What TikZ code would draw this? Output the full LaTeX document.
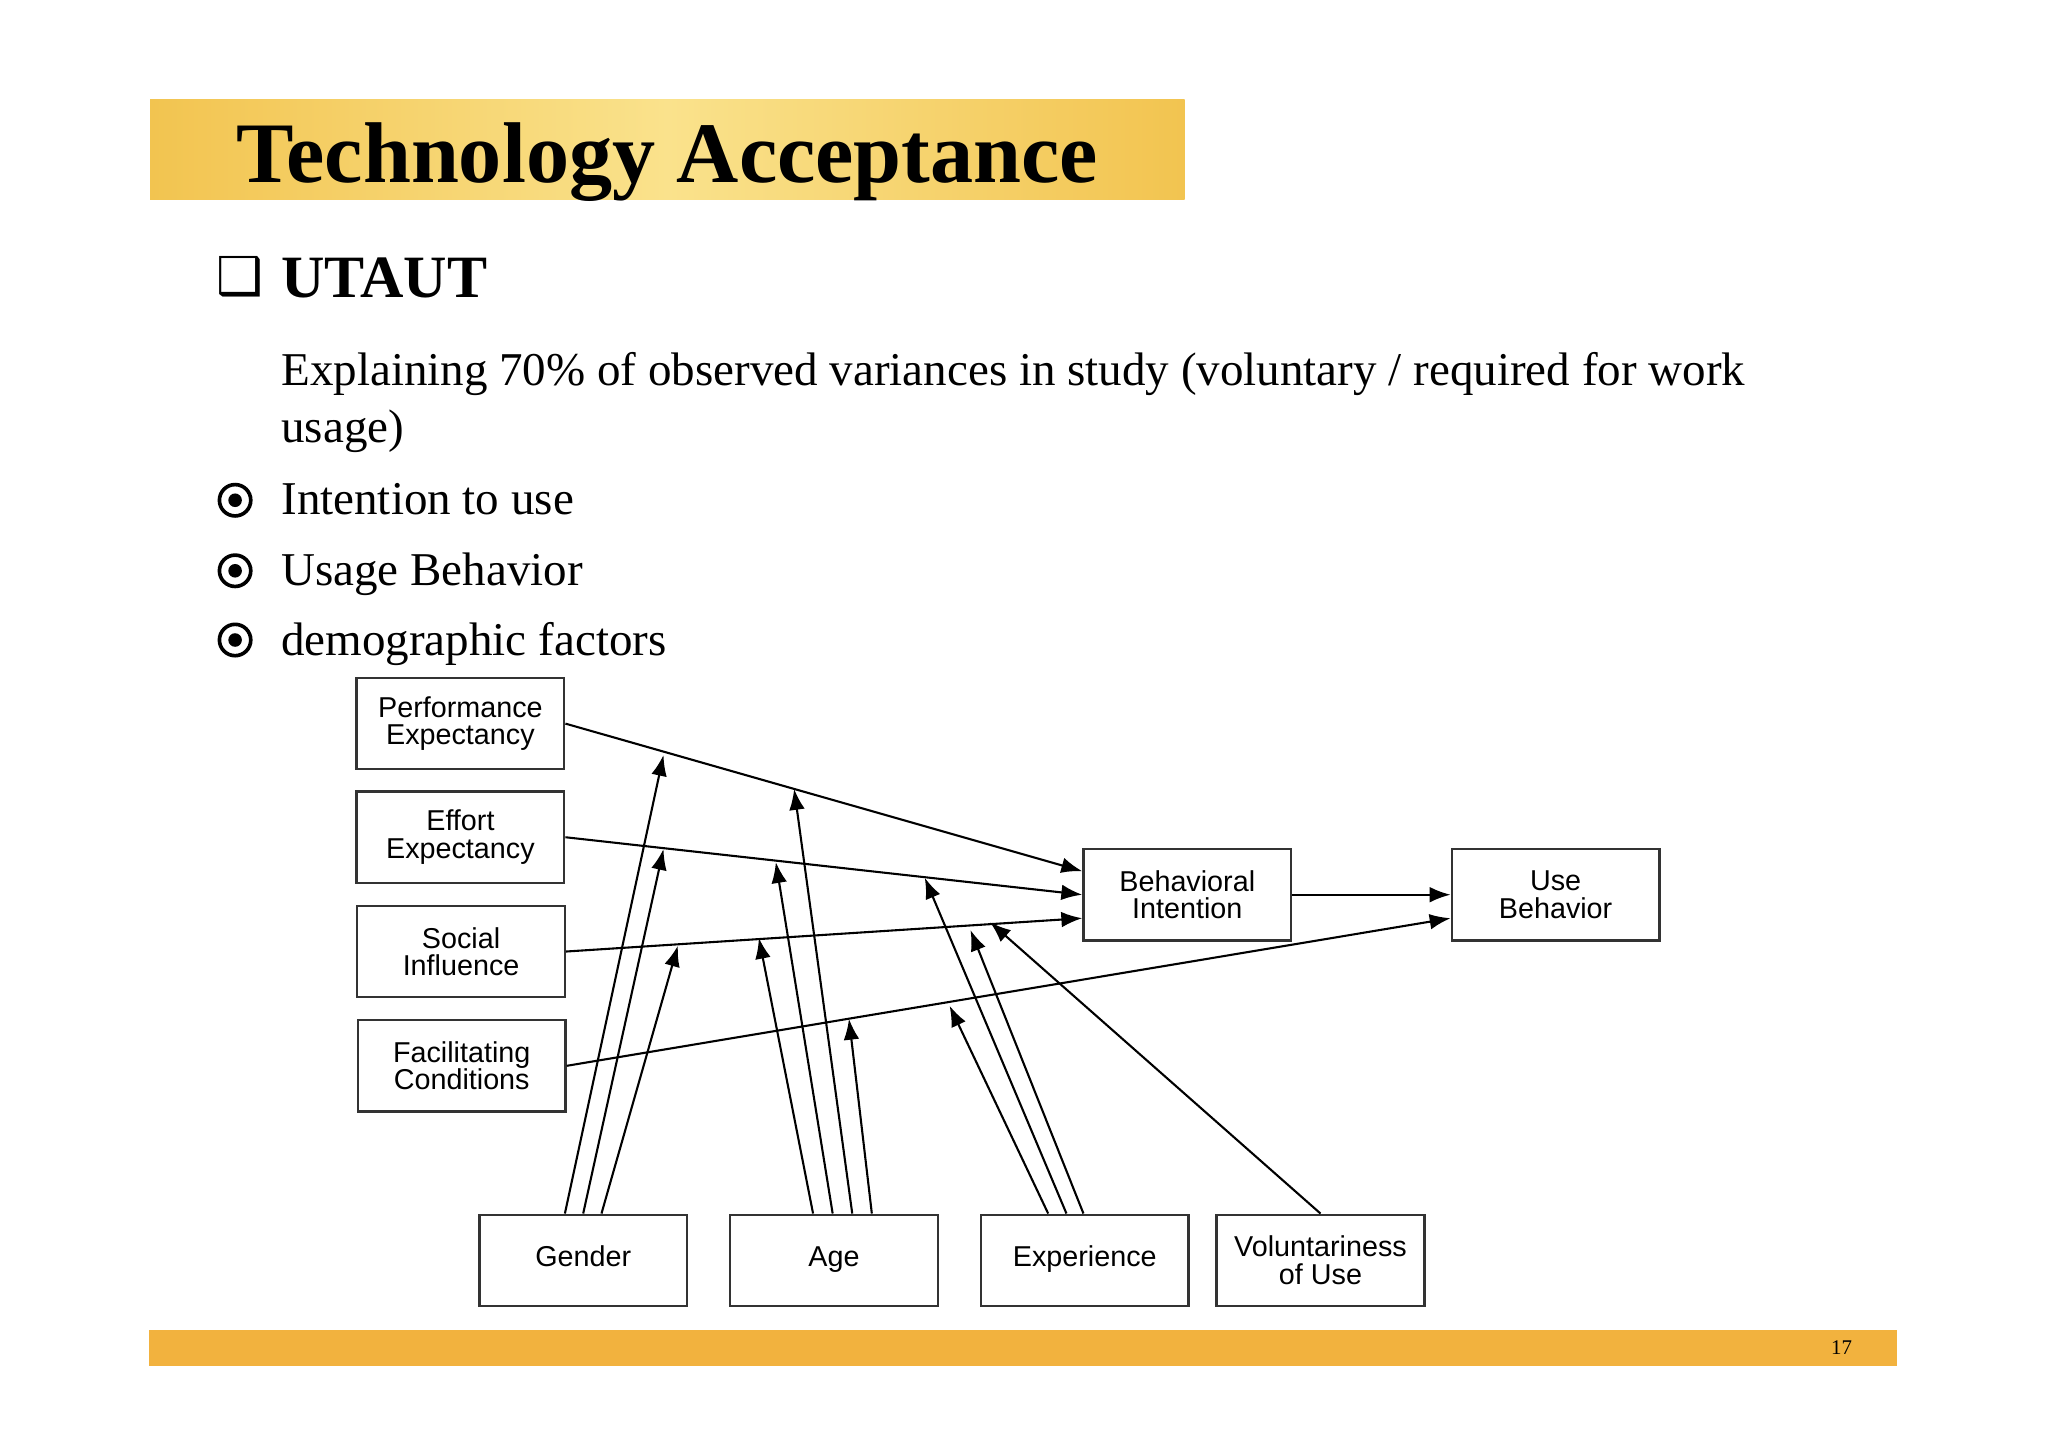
\documentclass[tikz,border=0pt]{standalone}
\usepackage{fontspec}
\setmainfont{Liberation Serif}
\newfontfamily\diagfont{Liberation Sans}
\newfontfamily\symfont{DejaVu Sans}
\usetikzlibrary{arrows.meta}
\definecolor{band}{RGB}{242,196,80}
\definecolor{bandlight}{RGB}{250,226,140}
\definecolor{foot}{RGB}{242,178,62}
\tikzset{
  box/.style={draw=black!80,line width=0.9pt,minimum width=79.5pt,minimum height=35pt,inner sep=0pt,align=center,font=\diagfont\fontsize{11}{10.5}\selectfont},
  arr/.style={line width=0.8pt,-{Latex[length=8pt,width=6pt]}},
  body/.style={anchor=base west,inner sep=0pt,font=\fontsize{18}{20}\selectfont}
}
\begin{document}
\begin{tikzpicture}[x=0.5pt,y=-0.5pt]
\useasboundingbox (0,0) rectangle (1568,1109);
\fill[white] (0,0) rectangle (1568,1109);
% header band
\shade[left color=band,right color=band,middle color=bandlight] (115,76) rectangle (907,153);
\node[anchor=base west,inner sep=0pt,font=\bfseries\fontsize{33}{36}\selectfont] (title) at (181,140) {Technology Acceptance};
% footer
\fill[foot] (114,1018) rectangle (1452,1046);
\node[inner sep=0pt,font=\fontsize{8}{9}\selectfont] (pg) at (1410,1032) {17};
% bullets
\node[inner sep=0pt,font=\symfont\bfseries\fontsize{20}{20}\selectfont] (sq) at (184,212) {❑};
\node[anchor=base west,inner sep=0pt,font=\bfseries\fontsize{23}{24}\selectfont] (utaut) at (215,228) {UTAUT};
\node[body] (l1) at (215,295) {Explaining 70\% of  observed variances in study (voluntary / required for work};
\node[body] (l2) at (215,339) {usage)};
\node[body] (l3) at (215,394) {Intention to use};
\node[body] (l4) at (215,448) {Usage Behavior};
\node[body] (l5) at (215,502) {demographic factors};
\foreach \yy/\nm in {383/b1,437/b2,490/b3}{
  \draw[line width=1.4pt] (180,\yy) circle (6pt);
  \fill (180,\yy) circle (2.6pt);
}
% diagram
\node[box] (pe) at (352.5,554) {Performance\\Expectancy};
\node[box] (ee) at (352.5,641) {Effort\\Expectancy};
\node[box] (si) at (353,728.5) {Social\\Influence};
\node[box] (fc) at (353.5,816) {Facilitating\\Conditions};
\node[box] (bi) at (909,685) {Behavioral\\Intention};
\node[box] (ub) at (1191,685) {Use\\Behavior};
\node[box] (ge) at (446.5,965) {\strut Gender};
\node[box] (ag) at (638.5,965) {\strut Age};
\node[box] (ex) at (830.5,965) {\strut Experience};
\node[box] (vo) at (1011,965) {Voluntariness\\of Use};
\draw[arr] (pe.east) -- ([yshift=9pt]bi.west);
\draw[arr] (ee.east) -- (bi.west);
\draw[arr] (si.east) -- ([yshift=-9pt]bi.west);
\draw[arr] (fc.east) -- ([yshift=-9pt]ub.west);
\draw[arr] (bi.east) -- (ub.west);
\coordinate (g1) at (508,578); \coordinate (g2) at (508,650); \coordinate (g3) at (519,724);
\coordinate (a1) at (608,604); \coordinate (a2) at (594,660); \coordinate (a3) at (581,718); \coordinate (a4) at (650,780);
\coordinate (e1) at (708,672); \coordinate (e2) at (743,712); \coordinate (e3) at (727,770);
\coordinate (v1) at (758,706);
\draw[arr] ([xshift=-7pt]ge.north) -- (g1);
\draw[arr] (ge.north) -- (g2);
\draw[arr] ([xshift=7pt]ge.north) -- (g3);
\draw[arr] ([xshift=-8pt]ag.north) -- (a3);
\draw[arr] ([xshift=-0.5pt]ag.north) -- (a2);
\draw[arr] ([xshift=7pt]ag.north) -- (a1);
\draw[arr] ([xshift=14.5pt]ag.north) -- (a4);
\draw[arr] ([xshift=-14pt]ex.north) -- (e3);
\draw[arr] ([xshift=-7pt]ex.north) -- (e1);
\draw[arr] ([xshift=-0.5pt]ex.north) -- (e2);
\draw[arr] (vo.north) -- (v1);
\end{tikzpicture}
\end{document}
